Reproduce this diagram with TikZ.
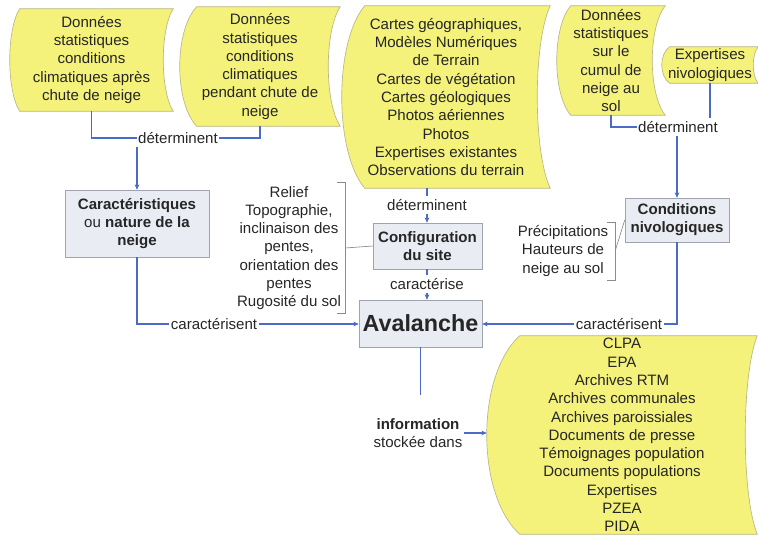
\documentclass[tikz,border=0pt]{standalone}
\usepackage{fontspec}
\setmainfont{Liberation Sans}
\usetikzlibrary{arrows.meta,calc,backgrounds}

\definecolor{docyellow}{RGB}{244,242,122}
\definecolor{docedge}{RGB}{185,183,135}
\definecolor{boxfill}{RGB}{233,236,243}
\definecolor{boxedge}{RGB}{158,163,174}
\definecolor{linkblue}{RGB}{74,107,198}
\definecolor{brkgray}{RGB}{140,140,140}

\newcommand\docfont{\fontsize{11.3}{13.7}\selectfont}
\newcommand\px{0.75pt}

\tikzset{
  doc/.style={inner sep=0pt, align=center, font=\docfont, text=black!85},
  box/.style={draw=boxedge, fill=boxfill, inner sep=0pt, align=center, font=\docfont\bfseries, text=black!85},
  lab/.style={inner xsep=1pt, inner ysep=2pt, font=\docfont, text=black!85},
  note/.style={align=center, font=\docfont, inner ysep=2.5pt, text=black!85},
  link/.style={draw=linkblue, line width=0.9pt},
  linkarrow/.style={link, -{Stealth[length=4pt,width=3.5pt]}},
  brk/.style={draw=brkgray, line width=0.5pt},
  docshape/.style={draw=docedge, fill=docyellow, line width=0.5pt},
}

% stored data outline round node #1, left bulge #2, right inset #3
\newcommand\docoutline[3]{%
  \path[docshape] ($(#1.north west)+(#2,0)$) -- (#1.north east)
    .. controls ($(#1.north east)!0.2!(#1.south east)+({-4*#3/3},0)$)
       and ($(#1.north east)!0.8!(#1.south east)+({-4*#3/3},0)$) .. (#1.south east)
    -- ($(#1.south west)+(#2,0)$)
    .. controls ($(#1.south west)!0.2!(#1.north west)+({-#2/3},0)$)
       and ($(#1.south west)!0.8!(#1.north west)+({-#2/3},0)$) .. cycle;}

\begin{document}
\begin{tikzpicture}[x=0.75pt, y=-0.75pt]
  \useasboundingbox (0,0) rectangle (758,536);
  % Sources
  \node[doc, minimum width=163*\px, minimum height=102*\px] (A) at (91.5,60)
    {Données\\statistiques\\conditions\\climatiques après\\chute de neige};
  \node[doc, minimum width=160*\px, minimum height=119*\px] (B) at (260,66.5)
    {Données\\statistiques\\conditions\\climatiques\\pendant chute de\\neige};
  \node[doc, minimum width=208*\px, minimum height=182*\px] (C) at (446,97)
    {Cartes géographiques,\\Modèles Numériques\\de Terrain\\Cartes de végétation\\Cartes géologiques\\Photos aériennes\\Photos\\Expertises existantes\\Observations du terrain};
  \node[doc, minimum width=108*\px, minimum height=109*\px] (D) at (611,60.5)
    {Données\\statistiques\\sur le\\cumul de\\neige au\\sol};
  \node[doc, minimum width=96*\px, minimum height=36*\px] (E) at (710,65)
    {Expertises\\nivologiques};
  \node[doc, minimum width=270*\px, minimum height=198*\px] (F) at (622,435)
    {CLPA\\EPA\\Archives RTM\\Archives communales\\Archives paroissiales\\Documents de presse\\Témoignages population\\Documents populations\\Expertises\\PZEA\\PIDA};
  \begin{pgfonlayer}{background}
    \docoutline{A}{10}{10}
    \docoutline{B}{17}{12}
    \docoutline{C}{23}{13}
    \docoutline{D}{14}{13}
    \docoutline{E}{8}{5}
    \docoutline{F}{33}{12}
  \end{pgfonlayer}
  % Boxes
  \node[box, minimum width=144*\px, minimum height=67*\px] (carac) at (137,223.5)
    {Caractéristiques\\\mdseries ou \bfseries nature de la\\neige};
  \node[box, minimum width=109*\px, minimum height=46*\px] (config) at (427.5,246)
    {Configuration\\du site};
  \node[box, minimum width=123*\px, minimum height=47*\px, font=\fontsize{17.5}{20}\selectfont\bfseries] (aval) at (420.5,323.5)
    {Avalanche};
  \node[box, minimum width=104*\px, minimum height=44*\px] (cond) at (677,220)
    {Conditions\\nivologiques};
  % Notes
  \node[note, inner xsep=3pt] (relief) at (289,248)
    {Relief\\Topographie,\\inclinaison des\\pentes,\\orientation des\\pentes\\Rugosité du sol};
  \node[note, inner xsep=5pt] (precip) at (563,251)
    {Précipitations\\Hauteurs de\\neige au sol};
  \draw[brk] ($(relief.north east)+(-8,0)$) -- (relief.north east) -- (relief.south east) -- ($(relief.south east)+(-8,0)$);
  \draw[brk] (relief.east) -- (config.west);
  \draw[brk] ($(precip.north east)+(-8,0)$) -- (precip.north east) -- (precip.south east) -- ($(precip.south east)+(-8,0)$);
  \draw[brk] (precip.east) -- (cond.west);
  % Labels
  \node[lab] (det1) at (178,138) {déterminent};
  \node[lab] (car1) at (214,324) {caractérisent};
  \node[lab] (det2) at (427,205) {déterminent};
  \node[lab] (car2) at (427,284) {caractérise};
  \node[lab] (det3) at (678,127) {déterminent};
  \node[lab] (car3) at (619,324) {caractérisent};
  \node[lab, align=center] (info) at (418,433) {\textbf{information}\\stockée dans};
  % Connectors
  \draw[link] (A.south) |- (det1.west);
  \draw[link] (det1.east) -| (B.south);
  \draw[linkarrow] (det1.south -| carac.north) -- (carac.north);
  \draw[link] (carac.south) |- (car1.west);
  \draw[linkarrow] (car1.east) -- (car1.east -| aval.west);
  \draw[link] (C.south -| det2.north) -- (det2.north);
  \draw[linkarrow] (det2.south) -- (det2.south |- config.north);
  \draw[link] (car2.north |- config.south) -- (car2.north);
  \draw[linkarrow] (car2.south) -- (car2.south |- aval.north);
  \draw[link] (D.south) |- (det3.west);
  \draw[link] (E.south) -- (E.south |- det3.north);
  \draw[linkarrow] (det3.south -| cond.north) -- (cond.north);
  \draw[link] (cond.south) |- (car3.east);
  \draw[linkarrow] (car3.west) -- (car3.west -| aval.east);
  \draw[link, shorten >=15pt] (aval.south) -- (aval.south |- info.north);
  \draw[linkarrow] (info.east) -- (info.east -| F.west);
\end{tikzpicture}
\end{document}
